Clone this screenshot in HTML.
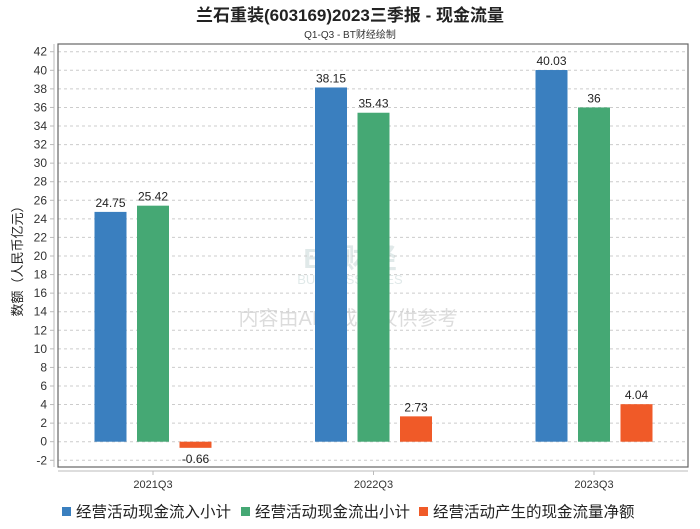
<!DOCTYPE html>
<html><head><meta charset="utf-8"><style>
body{margin:0;background:#fff;font-family:"Liberation Sans","Noto Sans CJK SC",sans-serif;}
svg text{font-family:"Liberation Sans","Noto Sans CJK SC",sans-serif;}
</style></head><body>
<svg id="chart" width="700" height="524" xmlns="http://www.w3.org/2000/svg">
<text x="350" y="21" text-anchor="middle" font-size="17" font-weight="bold" fill="#222">兰石重装(603169)2023三季报 - 现金流量</text>
<text x="350" y="38" text-anchor="middle" font-size="10" fill="#333">Q1-Q3 - BT财经绘制</text>
<g opacity="0.25">
<text x="350" y="268" text-anchor="middle" font-size="28" font-weight="bold" fill="#8aa">BT财经</text>
<text x="350" y="284" text-anchor="middle" font-size="13" fill="#8aa">BUSINESSTIMES</text>
<text x="348" y="325" text-anchor="middle" font-size="20" fill="#777">内容由AI生成，仅供参考</text>
</g>
<text transform="translate(22,258) rotate(-90)" text-anchor="middle" font-size="13" fill="#222">数额（人民币亿元）</text>
<g id="grid"></g><g id="bars"></g>
<rect x="58" y="44" width="630" height="423" fill="none" stroke="#666" stroke-width="1.2"/>
<line x1="54" y1="44" x2="54" y2="467" stroke="#bbb"/>
<line x1="58" y1="471" x2="688" y2="471" stroke="#bbb"/>
<g font-size="15.5" fill="#222">
<rect x="62" y="507" width="9" height="9" fill="#3a7fbf"/>
<text x="76" y="517">经营活动现金流入小计</text>
<rect x="241" y="507" width="9" height="9" fill="#45a874"/>
<text x="255" y="517">经营活动现金流出小计</text>
<rect x="419" y="507" width="9" height="9" fill="#f05a28"/>
<text x="433" y="517">经营活动产生的现金流量净额</text>
</g>
</svg>
<script>
const categories=["2021Q3","2022Q3","2023Q3"];
const inflow=[24.75,38.15,40.03];
const outflow=[25.42,35.43,36];
const net=[-0.66,2.73,4.04];
const yTicks=[-2,0,2,4,6,8,10,12,14,16,18,20,22,24,26,28,30,32,34,36,38,40,42];
const NS="http://www.w3.org/2000/svg";
const y=v=>441.7-v*9.285;
const xc=i=>153+i*220.5;
function mk(tag,attrs,parent){const e=document.createElementNS(NS,tag);for(const k in attrs)e.setAttribute(k,attrs[k]);parent.appendChild(e);return e;}
const grid=document.getElementById('grid'),bars=document.getElementById('bars');
yTicks.forEach(t=>{
  const l=mk('line',{x1:58,x2:688,y1:y(t),y2:y(t),stroke:'#ccc','stroke-dasharray':'3,3'},grid);
  
  
  const tk=mk('line',{x1:50,x2:54,y1:y(t),y2:y(t),stroke:'#bbb'},grid);
  
  
  const tx=mk('text',{x:47,y:y(t)+4,'text-anchor':'end','font-size':12,fill:'#333'},grid);
  tx.textContent=t;
  
  
});
const series=[[inflow,'#3a7fbf','inflow',-42.5],[outflow,'#45a874','outflow',0],[net,'#f05a28','net',42.5]];
categories.forEach((c,i)=>{
  const tk=mk('line',{x1:xc(i),x2:xc(i),y1:471,y2:475,stroke:'#bbb'},grid);
  
  
  const tx=mk('text',{x:xc(i),y:488,'text-anchor':'middle','font-size':11,fill:'#333'},grid);
  tx.textContent=c;
  
  
  series.forEach(([arr,col,nm,off])=>{
    const v=arr[i],cx=xc(i)+off;
    const top=Math.min(y(v),y(0)),h=Math.abs(y(v)-y(0));
    const r=mk('rect',{x:cx-16,y:top,width:32,height:h,fill:col},bars);
    
    
    const lb=mk('text',{x:cx,y:v>=0?y(v)-5:y(v)+15,'text-anchor':'middle','font-size':12,fill:'#222'},bars);
    lb.textContent=v;
    
    
  });
});
</script>
</body></html>
